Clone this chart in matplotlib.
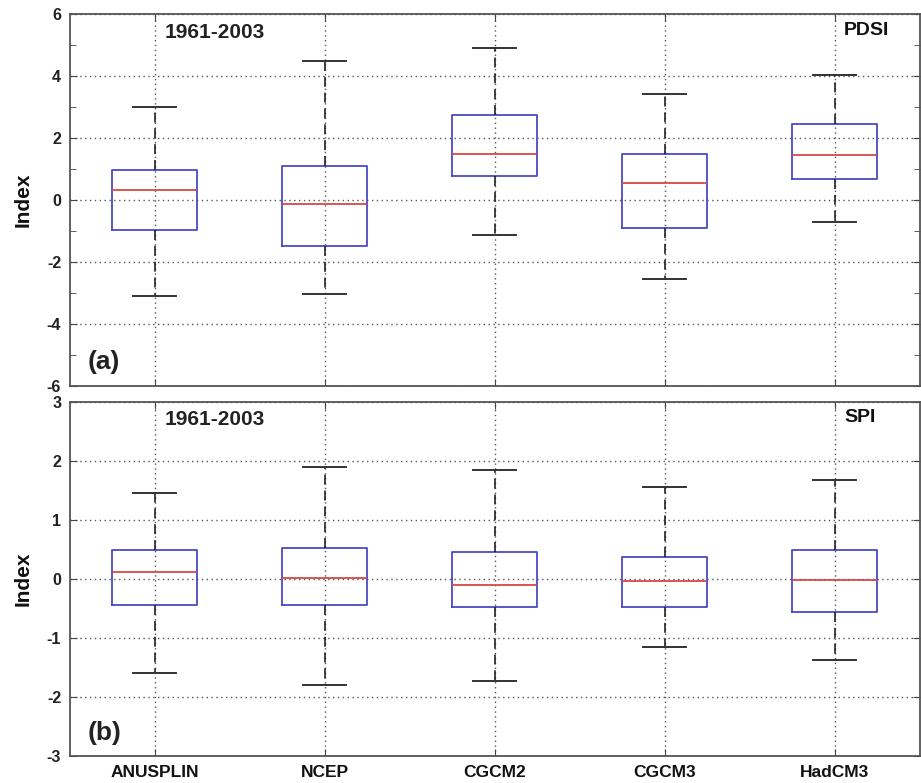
import matplotlib
matplotlib.use("Agg")
import matplotlib.pyplot as plt
from matplotlib.ticker import MultipleLocator

plt.rcParams['font.family'] = ['Liberation Sans', 'DejaVu Sans']
plt.rcParams['font.weight'] = 'bold'
plt.rcParams['axes.unicode_minus'] = False

models = ["ANUSPLIN", "NCEP", "CGCM2", "CGCM3", "HadCM3"]

# PDSI, 1961-2003
pdsi_lo = [-3.10, -3.04, -1.14, -2.55, -0.72]
pdsi_q1 = [-0.97, -1.48, 0.76, -0.90, 0.66]
pdsi_med = [0.30, -0.14, 1.48, 0.53, 1.45]
pdsi_q3 = [0.97, 1.08, 2.72, 1.48, 2.45]
pdsi_hi = [3.00, 4.48, 4.90, 3.41, 4.03]

# SPI, 1961-2003
spi_lo = [-1.60, -1.81, -1.73, -1.15, -1.37]
spi_q1 = [-0.45, -0.45, -0.48, -0.48, -0.56]
spi_med = [0.12, 0.01, -0.10, -0.04, -0.02]
spi_q3 = [0.49, 0.52, 0.46, 0.37, 0.49]
spi_hi = [1.45, 1.89, 1.85, 1.56, 1.67]


def make_stats(lo, q1, med, q3, hi):
    stats = []
    for i in range(len(models)):
        stats.append({"whislo": lo[i], "q1": q1[i], "med": med[i],
                      "q3": q3[i], "whishi": hi[i], "fliers": [],
                      "label": models[i]})
    return stats


def draw_panel(ax, stats, ylim, major, minor, tag, index_name):
    pos = list(range(1, len(models) + 1))
    ax.bxp(stats, positions=pos, widths=0.5, capwidths=0.25,
           showfliers=False,
           boxprops=dict(color="#4a4ac4", linewidth=1.3),
           medianprops=dict(color="#d84848", linewidth=1.3),
           whiskerprops=dict(color="#222222", linewidth=1.2,
                             linestyle=(0, (6, 3.5))),
           capprops=dict(color="#333333", linewidth=1.4))
    ax.set_xlim(0.5, len(models) + 0.5)
    ax.set_ylim(*ylim)
    ax.yaxis.set_major_locator(MultipleLocator(major))
    ax.yaxis.set_minor_locator(MultipleLocator(minor))
    ax.set_xticks(pos)
    ax.grid(True, which="major", linestyle=(0, (1, 2.5)), color="#555555",
            linewidth=1.0)
    ax.tick_params(axis="both", which="both", direction="in",
                   top=True, right=True, color="#444444")
    ax.tick_params(axis="both", which="major", length=5)
    ax.tick_params(axis="y", which="minor", length=4)
    ax.tick_params(axis="y", labelsize=11.5, pad=6, labelcolor="#222222")
    ax.tick_params(axis="x", labelsize=12.5, pad=7, labelcolor="#111111")
    for lab in ax.get_yticklabels() + ax.get_xticklabels():
        lab.set_fontweight("bold")
    for sp in ax.spines.values():
        sp.set_color("#555555")
        sp.set_linewidth(1.3)
    ax.set_ylabel("Index", fontsize=15, fontweight="bold", color="#111111")
    ax.yaxis.set_label_coords(-0.043, 0.5)
    ax.text(0.112, 0.95, "1961-2003", transform=ax.transAxes, fontsize=15,
            fontweight="bold", ha="left", va="center", color="#222222")
    ax.text(0.911, 0.955, index_name, transform=ax.transAxes, fontsize=14,
            fontweight="bold", ha="left", va="center", color="#111111")
    ax.text(0.021, 0.065, tag, transform=ax.transAxes, fontsize=19,
            fontweight="bold", ha="left", va="center", color="#222222")


fig = plt.figure(figsize=(9.21, 7.83), dpi=100)
ax1 = fig.add_axes([0.0755, 0.507, 0.923, 0.4757])
ax2 = fig.add_axes([0.0755, 0.0349, 0.923, 0.452])

draw_panel(ax1, make_stats(pdsi_lo, pdsi_q1, pdsi_med, pdsi_q3, pdsi_hi),
           (-6, 6), 2, 1, "(a)", "PDSI")
draw_panel(ax2, make_stats(spi_lo, spi_q1, spi_med, spi_q3, spi_hi),
           (-3, 3), 1, 1, "(b)", "SPI")
ax1.set_xticklabels([])

fig.savefig("out.png", dpi=100)
